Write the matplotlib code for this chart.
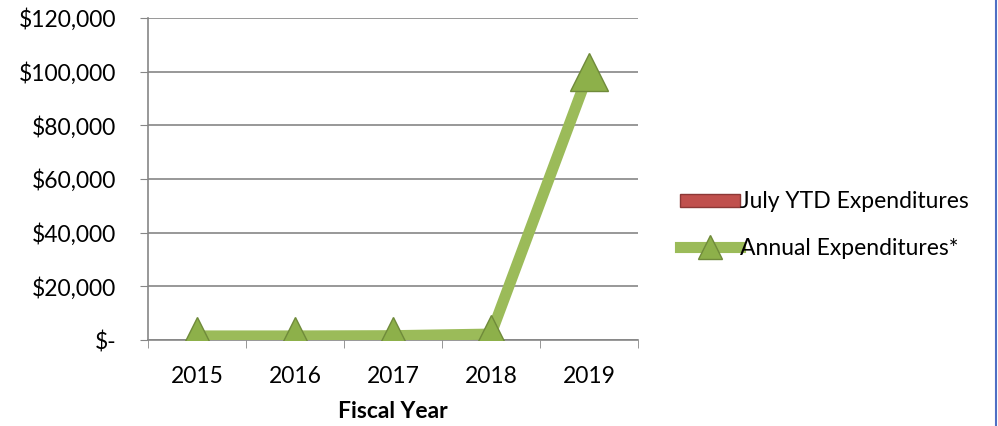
import matplotlib
matplotlib.use("Agg")
import matplotlib.pyplot as plt
from matplotlib.lines import Line2D
from matplotlib.patches import Patch
import numpy as np

years = ["2015", "2016", "2017", "2018", "2019"]
july_ytd = [0, 0, 0, 0, 0]
annual = [1500, 1500, 1600, 2200, 100000]
ytick_vals = [0, 20000, 40000, 60000, 80000, 100000, 120000]
ytick_labels = ["$-", "$20,000", "$40,000", "$60,000", "$80,000", "$100,000", "$120,000"]

plt.rcParams['font.family'] = ['Lato', 'DejaVu Sans']

W, H = 998, 426
fig = plt.figure(figsize=(W/100, H/100), dpi=100)
ax = fig.add_axes([148/W, 1-340/H, (638-148)/W, (340-18)/H])

x = np.arange(len(years))
ax.bar(x, july_ytd, width=0.6, color="#c0504d")
ax.plot(x, annual, color="#9bbb59", lw=8, solid_capstyle="butt", zorder=3)
ax.plot(x, annual, ls="none", marker="^", markersize=28, markerfacecolor="#8db04a",
        markeredgecolor="#6f8a3a", markeredgewidth=1, zorder=4)

ax.set_xlim(-0.5, len(years)-0.5)
ax.set_ylim(0, 120000)
ax.set_yticks(ytick_vals)
ax.set_yticklabels(ytick_labels, fontsize=16.5)
ax.set_xticks(x)
ax.set_xticklabels(years, fontsize=16.5)
ax.set_xticks(np.arange(-0.5, len(years), 1), minor=True)
ax.tick_params(axis='x', which='major', length=0, pad=19)
ax.tick_params(axis='x', which='minor', length=6, color="#868686", direction='out')
ax.tick_params(axis='y', length=6, color="#868686", direction='out', pad=17)
ax.grid(axis='y', color="#868686", lw=1.2)
ax.set_axisbelow(True)
for s in ["top", "right"]:
    ax.spines[s].set_visible(False)
for s in ["left", "bottom"]:
    ax.spines[s].set_color("#868686")
    ax.spines[s].set_linewidth(1.2)
ax.set_xlabel("Fiscal Year", fontsize=16.5, fontweight='bold', labelpad=10)

handles = [Patch(facecolor="#c0504d", edgecolor="#8c3836"),
           Line2D([], [], color="#9bbb59", lw=8, marker="^", markersize=17,
                  markerfacecolor="#8db04a", markeredgecolor="#6f8a3a")]
fig.legend(handles, ["July YTD Expenditures", "Annual Expenditures*"],
           loc="center left", bbox_to_anchor=(680/W, 1-225/H), frameon=False,
           fontsize=16.5, handlelength=2.6, handleheight=0.5, handletextpad=0.0,
           labelspacing=1.1, borderaxespad=0, borderpad=0)

fig.add_artist(Line2D([996/W, 996/W], [0, 1], color="#4f6fc4", lw=1.5, transform=fig.transFigure))

fig.savefig("out.png", dpi=100)
